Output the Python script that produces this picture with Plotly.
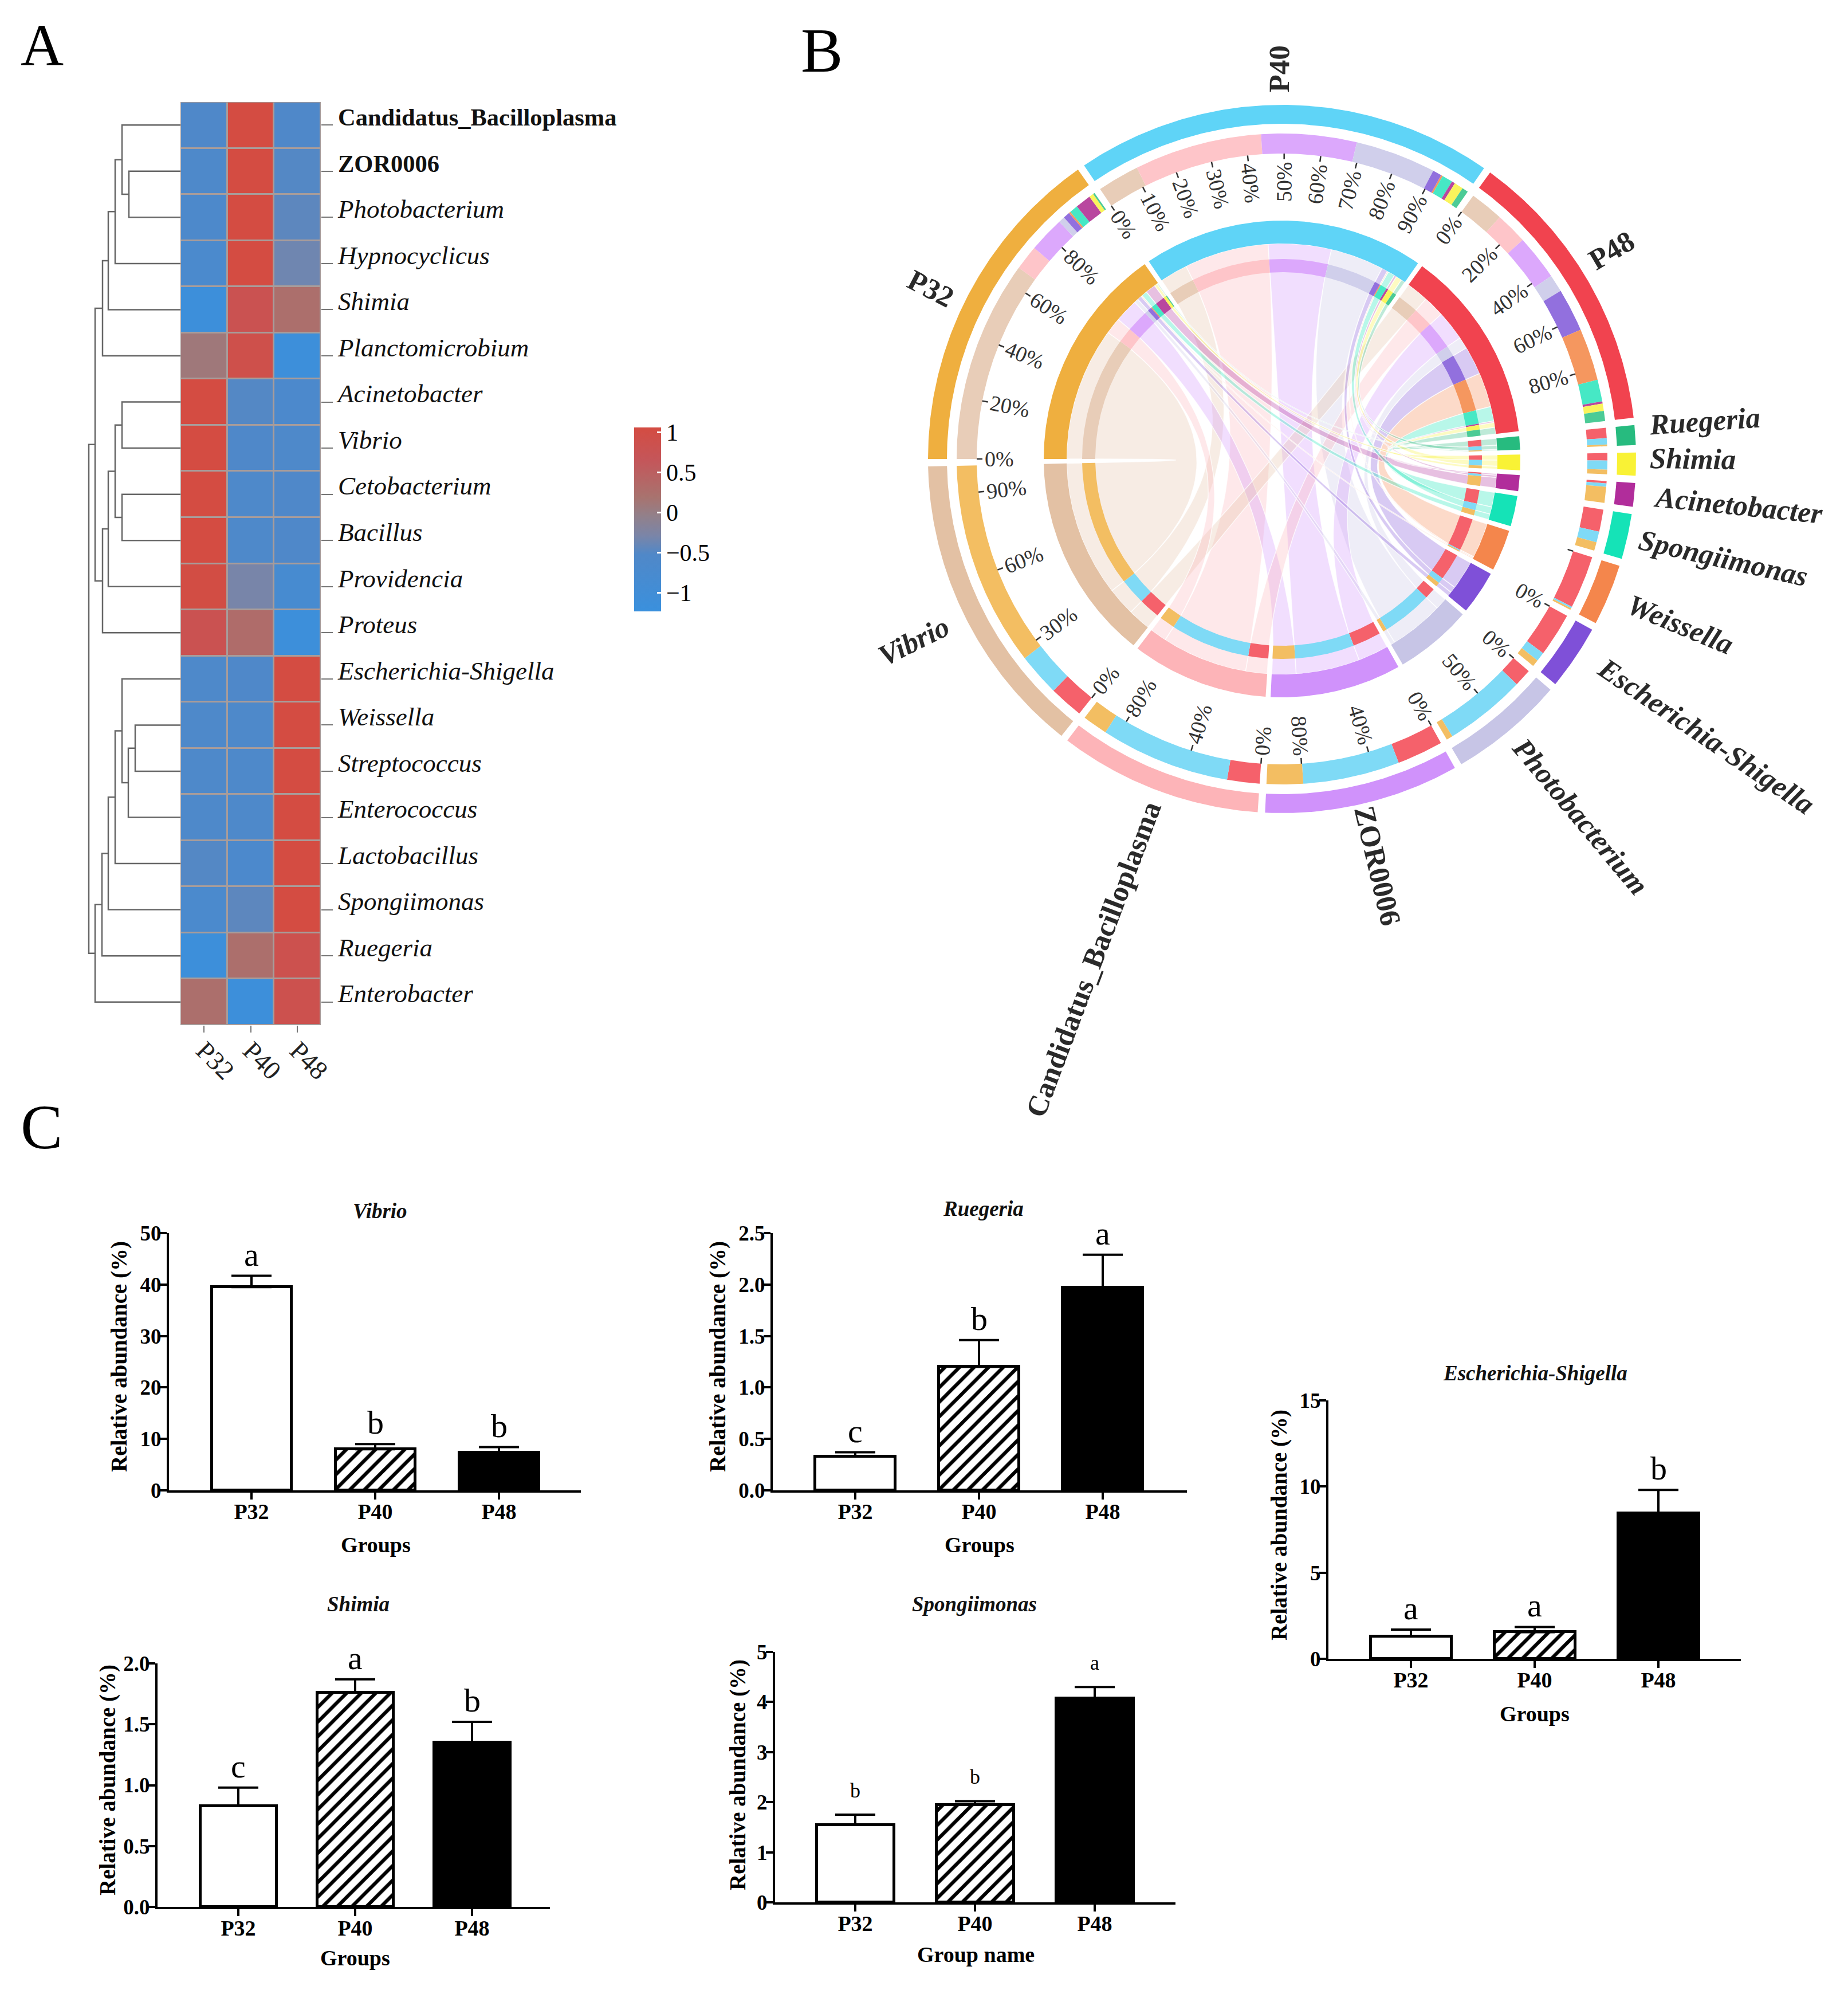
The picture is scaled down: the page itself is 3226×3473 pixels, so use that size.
import numpy as np
import plotly.graph_objects as go

W, H = 3226, 3473
SERIF = "Liberation Serif"

# ---------- Panel A data ----------
taxa = ["Candidatus_Bacilloplasma", "ZOR0006", "Photobacterium", "Hypnocyclicus", "Shimia",
        "Planctomicrobium", "Acinetobacter", "Vibrio", "Cetobacterium", "Bacillus", "Providencia",
        "Proteus", "Escherichia-Shigella", "Weissella", "Streptococcus", "Enterococcus",
        "Lactobacillus", "Spongiimonas", "Ruegeria", "Enterobacter"]
heat_P32 = [-.55, -.6, -.62, -.68, -1.12, .1, 1.06, 1.06, 1.06, 1.06, 1.02, .8, -.6, -.58, -.58, -.58, -.5, -.68, -1.12, .25]
heat_P40 = [1.06, 1.06, 1.06, 1.06, .8, .9, -.5, -.55, -.6, -.6, -.3, .3, -.55, -.58, -.58, -.58, -.65, -.45, .25, -1.12]
heat_P48 = [-.55, -.5, -.45, -.35, .25, -1.12, -.65, -.6, -.55, -.55, -.8, -1.12, 1.06, 1.06, 1.06, 1.06, 1.06, 1.06, .85, .85]
groups = ["P32", "P40", "P48"]
# linkage: child a, child b, height
merges = [(1, 2, 90), (0, 20, 102), (3, 21, 114), (4, 22, 126), (5, 23, 136), (6, 7, 102), (8, 9, 102),
          (25, 26, 114), (10, 27, 126), (11, 28, 136), (24, 29, 149), (13, 14, 79), (15, 31, 91),
          (12, 32, 102), (16, 33, 114), (17, 34, 126), (18, 35, 137), (19, 36, 149), (30, 37, 160)]

# ---------- Panel B data ----------
genera = ["Ruegeria", "Shimia", "Acinetobacter", "Spongiimonas", "Weissella", "Escherichia-Shigella",
          "Photobacterium", "ZOR0006", "Candidatus_Bacilloplasma", "Vibrio"]
flow_P32 = [.3, .8, 2.8, 1.5, .3, 1.2, 1.1, 6.4, 4.4, 36.0]
flow_P40 = [1.1, 1.6, .6, 1.9, .3, 1.6, 14.4, 17.0, 22.8, 7.5]
flow_P48 = [1.8, 1.3, .4, 3.9, 9.3, 7.7, 3.1, 8.1, 5.7, 6.0]
ticks_groups = {"P32": [0, 20, 40, 60, 80], "P40": [0, 10, 20, 30, 40, 50, 60, 70, 80, 90], "P48": [0, 20, 40, 60, 80]}
ticks_genera = {"Vibrio": [0, 30, 60, 90], "Candidatus_Bacilloplasma": [0, 40, 80], "ZOR0006": [0, 40, 80],
                "Photobacterium": [0, 50], "Escherichia-Shigella": [0]}
colors_group = {"P32": "#EFAF3F", "P40": "#5FD4F7", "P48": "#F1434F"}
colors_group_sub = {"P32": "#F3BE62", "P40": "#7FDAF6", "P48": "#F5616B"}
colors_genus = ["#27BB7F", "#F9F235", "#B12D9B", "#15E3B7", "#F4864C", "#7F50D8", "#C7C5E6", "#D092FB", "#FDB4B8", "#E3C1A4"]
colors_genus_sub = ["#4CCB96", "#FAF45C", "#B9479F", "#46E8C5", "#F5975F", "#9270DE", "#D0CFEB", "#DCA8FC", "#FEC5C9", "#E8CDB8"]

# ---------- Panel C data ----------
vibrio_mean, vibrio_top = [39.5, 8.0, 7.3], [41.7, 9.0, 8.4]
ruegeria_mean, ruegeria_top = [.33, 1.2, 1.97], [.37, 1.46, 2.29]
shimia_mean, shimia_top = [.83, 1.76, 1.35], [.98, 1.87, 1.52]
spong_mean, spong_top = [1.55, 1.95, 4.07], [1.75, 2.02, 4.3]
esch_mean, esch_top = [1.3, 1.55, 8.45], [1.7, 1.85, 9.8]
vibrio_sig, ruegeria_sig, shimia_sig, spong_sig, esch_sig = list("abb"), list("cba"), list("cab"), list("bba"), list("aab")


def fx(px):
    return px / W


def fy(py):
    return 1 - py / H


fig = go.Figure()
layout = dict(width=W, height=H, margin=dict(l=0, r=0, t=0, b=0, autoexpand=False), paper_bgcolor="white",
              plot_bgcolor="rgba(0,0,0,0)", showlegend=False, font=dict(family=SERIF, color="black"))
anns = []
shapes = []


def text(px, py, s, size, bold=False, italic=False, angle=0, color="black", **kw):
    if bold:
        s = f"<b>{s}</b>"
    if italic:
        s = f"<i>{s}</i>"
    anns.append(dict(x=fx(px), y=fy(py), xref="paper", yref="paper", text=s, showarrow=False, textangle=angle,
                     font=dict(family=SERIF, size=size, color=color), xanchor="center", yanchor="middle", **kw))


text(73, 78, "A", 104)
text(1434, 88, "B", 110)
text(72, 1967, "C", 110)

# ---------- Panel A ----------
HX0, HX1, HY0, HY1 = 315, 560, 178, 1789
shapes.append(dict(type="rect", xref="paper", yref="paper", x0=fx(HX0), x1=fx(HX1), y0=fy(HY1), y1=fy(HY0),
                   fillcolor="#A89C9A", line=dict(width=0), layer="below"))
z = np.array([heat_P32, heat_P40, heat_P48]).T
scale = [[0, "#3A90DD"], [.31, "#5088C8"], [.41, "#7A85A8"], [.52, "#92808A"], [.62, "#A8736F"], [.82, "#C4565A"], [1, "#D44C42"]]
fig.add_trace(go.Heatmap(z=z, x=[0, 1, 2], y=list(range(20)), colorscale=scale, zmin=-1.23, zmax=1.06, xgap=3, ygap=3,
                         xaxis="x", yaxis="y", hoverinfo="skip",
                         colorbar=dict(x=fx(1107), xanchor="left", y=fy(746), yanchor="top", thickness=47, xpad=0, ypad=0,
                                       len=321, lenmode="pixels", outlinewidth=0, tickvals=[1, .5, 0, -.5, -1],
                                       ticktext=["1", "0.5", "0", "\u22120.5", "\u22121"],
                                       ticks="inside", ticklen=7, tickcolor="white", tickwidth=3,
                                       tickfont=dict(family=SERIF, size=42))))
ticktxt = [f"<i>{t}</i>" for t in taxa]
ticktxt[0] = f'<span style="font-size:42.5px"><b>{taxa[0]}</b></span>'
ticktxt[1] = f'<span style="font-size:42.5px"><b>{taxa[1]}</b></span>'
layout["xaxis"] = dict(domain=[fx(HX0), fx(HX1)], range=[-.5, 2.5], tickvals=[0, 1, 2], ticktext=groups, tickangle=45,
                       ticks="outside", ticklen=12, tickcolor="#777", tickwidth=2, showgrid=False, zeroline=False,
                       tickfont=dict(family=SERIF, size=46, color="#222"), anchor="y", showline=False, ticklabelstandoff=-14)
layout["yaxis"] = dict(domain=[fy(HY1), fy(HY0)], range=[19.5, -.5], tickvals=list(range(20)), ticktext=ticktxt, side="right",
                       ticks="outside", ticklen=20, tickcolor="#777", tickwidth=2, showgrid=False, zeroline=False,
                       tickfont=dict(family=SERIF, size=45, color="#111"), anchor="x", showline=False, ticklabelshift=15)
# dendrogram
pos = {i: float(i) for i in range(20)}
hgt = {i: 0.0 for i in range(20)}
dx, dy = [], []
for k, (a, b, h) in enumerate(merges):
    dx += [hgt[a], h, h, hgt[b], None]
    dy += [pos[a], pos[a], pos[b], pos[b], None]
    pos[20 + k] = (pos[a] + pos[b]) / 2
    hgt[20 + k] = h
fig.add_trace(go.Scatter(x=dx, y=dy, mode="lines", line=dict(color="#666", width=2.5), xaxis="x2", yaxis="y", hoverinfo="skip"))
layout["xaxis2"] = dict(domain=[fx(135), fx(HX0)], range=[HX0 - 135, 0], visible=False, anchor="y")

# ---------- Panel B ----------
layout["xaxis3"] = dict(domain=[0, 1], range=[0, W], visible=False, anchor="y3")
layout["yaxis3"] = dict(domain=[0, 1], range=[H, 0], visible=False, anchor="x3")
CX, CY = 2238, 801


def pt(theta, r):
    t = np.radians(theta)
    return CX + r * np.sin(t), CY - r * np.cos(t)


def poly(xs, ys, color, line=None):
    fig.add_trace(go.Scatter(x=xs, y=ys, mode="lines", fill="toself", fillcolor=color, xaxis="x3", yaxis="y3",
                             line=line or dict(width=0), hoverinfo="skip"))


def band(a0, a1, r0, r1, color):
    n = max(3, int(abs(a1 - a0) * 2) + 2)
    t = np.linspace(a0, a1, n)
    x0, y0 = pt(t, r0)
    x1, y1 = pt(t[::-1], r1)
    poly(np.r_[x0, x1, x0[0]], np.r_[y0, y1, y0[0]], color)


flows = np.array([flow_P32, flow_P40, flow_P48])
gap = 1.2
genus_scale = (360 - flows.sum() - 13 * gap) / flows.sum()
angle = 270.0
sec = {}
seg_group = {}
seg_genus = {}
for gi, g in enumerate(groups):
    w = flows[gi].sum()
    sec[g] = (angle, angle + w)
    a = angle
    for j in range(len(genera) - 1, -1, -1):
        seg_group[(gi, j)] = (a, a + flows[gi, j])
        a += flows[gi, j]
    angle += w + gap
for j, name in enumerate(genera):
    w = flows[:, j].sum() * genus_scale
    sec[name] = (angle, angle + w)
    a = angle
    for gi in (2, 1, 0):
        seg_genus[(gi, j)] = (a, a + flows[gi, j] * genus_scale)
        a += flows[gi, j] * genus_scale
    angle += w + gap

R_OUT = (618, 585, 568, 533)
R_IN = (416, 376, 349, 326)


def hexa(c, alpha):
    return f"rgba({int(c[1:3], 16)},{int(c[3:5], 16)},{int(c[5:7], 16)},{alpha})"


def bez(p0, p2, f=.14, n=40):
    p0, p2 = np.array(p0), np.array(p2)
    c = np.array([CX, CY]) + f * ((p0 + p2) / 2 - np.array([CX, CY]))
    u = np.linspace(0, 1, n)[:, None]
    return (1 - u) ** 2 * p0 + 2 * u * (1 - u) * c + u ** 2 * p2


order = sorted(seg_group, key=lambda k: -flows[k])
for key in order:
    gi, j = key
    a0, a1 = seg_group[key]
    b0, b1 = seg_genus[key]
    path = []
    ta = np.linspace(a0, a1, 12)
    path += [np.array(pt(t, R_IN[1])) for t in ta]
    path += [np.array(pt(a1, R_IN[3]))]
    path += list(bez(pt(a1, R_IN[3]), pt(b0, R_IN[3])))
    path += [np.array(pt(b0, R_IN[1]))]
    path += [np.array(pt(t, R_IN[1])) for t in np.linspace(b0, b1, 12)]
    path += [np.array(pt(b1, R_IN[3]))]
    path += list(bez(pt(b1, R_IN[3]), pt(a0, R_IN[3])))
    path += [np.array(pt(a0, R_IN[1])), np.array(pt(a0, R_IN[1]))]
    path = np.array(path)
    poly(path[:, 0], path[:, 1], hexa(colors_genus[j], .3), line=dict(color="rgba(255,255,255,.75)", width=1.5))

for rad in (R_OUT, R_IN):
    for g in groups:
        band(*sec[g], rad[0], rad[1], colors_group[g])
    for j, name in enumerate(genera):
        band(*sec[name], rad[0], rad[1], colors_genus[j])
    for key, (a0, a1) in seg_group.items():
        band(a0, a1, rad[2], rad[3], colors_genus_sub[key[1]])
    for key, (a0, a1) in seg_genus.items():
        band(a0, a1, rad[2], rad[3], colors_group_sub[groups[key[0]]])


def rot(theta):
    theta %= 360
    return theta - 90 if theta < 180 else theta - 270


tick_x, tick_y = [], []
for name, pcts in {**ticks_groups, **ticks_genera}.items():
    a0, a1 = sec[name]
    for p in pcts:
        t = a0 + (a1 - a0) * p / 100
        x0, y0 = pt(t, R_OUT[3])
        x1, y1 = pt(t, R_OUT[3] - 10)
        tick_x += [x0, x1, None]
        tick_y += [y0, y1, None]
        lab = f"{p}%"
        ln = (len(lab) - 1) * .5 * 38 + .83 * 38
        x, y = pt(t, R_OUT[3] - 14 - ln / 2)
        text(x, y, lab, 38, angle=rot(t), color="#333")
for name in ("Weissella",):
    t = sec[name][0]
    x0, y0 = pt(t, R_OUT[3])
    x1, y1 = pt(t, R_OUT[3] - 10)
    tick_x += [x0, x1, None]
    tick_y += [y0, y1, None]
fig.add_trace(go.Scatter(x=tick_x, y=tick_y, mode="lines", line=dict(color="#333", width=2.5), xaxis="x3", yaxis="y3", hoverinfo="skip"))

label_nudge = {"P32": -1.5, "P40": -.8, "P48": -2.0, "Ruegeria": -1.2, "Shimia": -.8, "Escherichia-Shigella": -1.0}
for name in groups + genera:
    a0, a1 = sec[name]
    mid = (a0 + a1) / 2
    t = mid + label_nudge.get(name, 0)
    lab_len = len(name) * 24
    x, y = pt(t, 645 + lab_len / 2)
    text(x, y, name, 51, bold=True, italic=name not in groups + ["ZOR0006", "Candidatus_Bacilloplasma"], angle=rot(mid), color="#2A2A2A")


# ---------- Panel C ----------
def bar_panel(idx, title, mean, top, sig, ymax, dtick, fmt, ax, ay_top, ay0, xend, c0, spacing, bw, title_xy, xtitle, xtitle_xy, ytitle_xy, sigsize=58, sigshift=3):
    xa, ya = f"x{idx}", f"y{idx}"
    err = [t - m for t, m in zip(top, mean)]
    styles = [dict(color="white", line=dict(color="black", width=5)),
              dict(color="white", line=dict(color="black", width=5),
                   pattern=dict(shape="/", fgcolor="black", bgcolor="white", fillmode="replace", fgopacity=1, size=18, solidity=.34)),
              dict(color="black", line=dict(color="black", width=5))]
    for i in range(3):
        fig.add_trace(go.Bar(x=[groups[i]], y=[mean[i]], width=bw / spacing, marker=styles[i],
                             error_y=dict(type="data", symmetric=False, array=[err[i]], arrayminus=[0], color="black", thickness=4, width=35),
                             xaxis=xa, yaxis=ya, hoverinfo="skip"))
    for i in range(3):
        anns.append(dict(x=groups[i], y=top[i], xref=xa, yref=ya, text=sig[i], showarrow=False, yanchor="bottom", yshift=sigshift,
                         font=dict(family=SERIF, size=sigsize, color="black")))
    key = idx
    layout[f"xaxis{key}"] = dict(domain=[fx(ax), fx(xend)], range=[-(c0 - ax) / spacing, (xend - c0) / spacing], type="category",
                                 categoryorder="array", categoryarray=groups,
                                 anchor=ya, showline=True, linecolor="black", linewidth=4, ticks="outside", ticklen=12, tickwidth=4,
                                 tickcolor="black", showgrid=False, zeroline=False, tickfont=dict(family=SERIF, size=38, color="black"),
                                 tickprefix="<b>", ticksuffix="</b>", ticklabelstandoff=-12)
    layout[f"yaxis{key}"] = dict(domain=[fy(ay0), fy(ay_top)], range=[0, ymax], dtick=dtick, tickformat=fmt, anchor=xa, showline=True,
                                 linecolor="black", linewidth=4, ticks="outside", ticklen=12, tickwidth=4, tickcolor="black", showgrid=False,
                                 zeroline=False, tickfont=dict(family=SERIF, size=37, color="black"),
                                 tickprefix="<b>", ticksuffix="</b>", ticklabelstandoff=-10)
    text(title_xy[0], title_xy[1], title, 37, bold=True, italic=True, color="#111")
    text(xtitle_xy[0], xtitle_xy[1], xtitle, 38, bold=True)
    text(ytitle_xy[0], ytitle_xy[1], "Relative abundance (%)", 39, bold=True, angle=-90)


bar_panel(4, "Vibrio", vibrio_mean, vibrio_top, vibrio_sig, 50, 10, "d", 295, 2152, 2601, 1014, 439, 216, 139, (663, 2113), "Groups", (656, 2696), (208, 2368))
bar_panel(5, "Ruegeria", ruegeria_mean, ruegeria_top, ruegeria_sig, 2.5, .5, ".1f", 1349, 2152, 2601, 2072, 1493, 216, 140, (1716, 2109), "Groups", (1710, 2696), (1253, 2368))
bar_panel(6, "Shimia", shimia_mean, shimia_top, shimia_sig, 2.0, .5, ".1f", 275, 2903, 3328, 960, 416, 204, 133, (625, 2799), "Groups", (620, 3417), (188, 3107))
bar_panel(7, "Spongiimonas", spong_mean, spong_top, spong_sig, 5, 1, "d", 1353, 2883, 3320, 2052, 1493, 209, 135, (1701, 2799), "Group name", (1703, 3411), (1288, 3098), sigsize=36, sigshift=20)
bar_panel(8, "Escherichia-Shigella", esch_mean, esch_top, esch_sig, 15, 5, "d", 2319, 2444, 2895, 3039, 2463, 216, 141, (2680, 2396), "Groups", (2679, 2991), (2233, 2662))

layout["annotations"] = anns
layout["shapes"] = shapes
layout["bargap"] = 0
layout["barmode"] = "overlay"
fig.update_layout(**layout)
fig.write_html("out.html", config={"displayModeBar": False},
               post_script="document.body.style.margin='0';document.documentElement.style.margin='0';")
